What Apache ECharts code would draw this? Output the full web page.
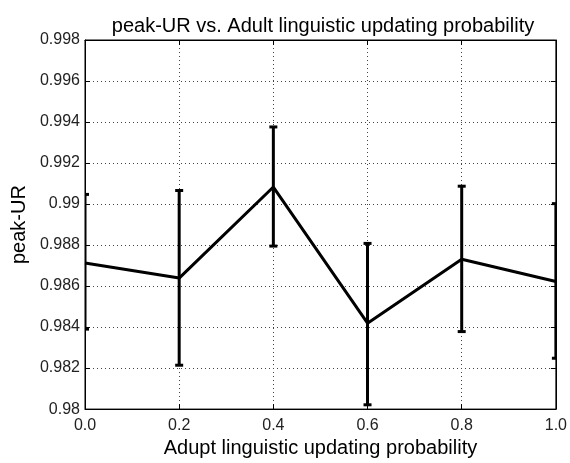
<!DOCTYPE html>
<html>
<head>
<meta charset="utf-8">
<script src="https://cdn.jsdelivr.net/npm/echarts@6/dist/echarts.min.js"></script>
<style>
html,body{margin:0;padding:0;background:#fff;}
#chart{width:570px;height:463px;}
</style>
</head>
<body>
<div id="chart"></div>
<script>
var xValues = [0.0, 0.2, 0.4, 0.6, 0.8, 1.0];
var meanValues = [0.98712, 0.98639, 0.99083, 0.98419, 0.98731, 0.98622];
var upperValues = [0.99047, 0.99066, 0.99376, 0.98808, 0.99087, 0.99002];
var lowerValues = [0.98390, 0.98214, 0.98795, 0.98021, 0.98378, 0.98248];

var titleText = 'peak-UR vs. Adult linguistic updating probability';
var xName = 'Adupt linguistic updating probability';
var yName = 'peak-UR';

var FONT = '"Liberation Sans", Arial, sans-serif';

var lineData = xValues.map(function (x, i) { return [x, meanValues[i]]; });
var errData = xValues.map(function (x, i) { return [x, lowerValues[i], upperValues[i]]; });

var chart = echarts.init(document.getElementById('chart'), null, {renderer: 'canvas'});

var gridLine = {show: true, lineStyle: {color: '#444', width: 1, type: [1, 3]}};

var option = {
  backgroundColor: '#fff',
  animation: false,
  title: {
    text: titleText,
    left: 318,
    textAlign: 'center',
    top: 11,
    textStyle: {fontFamily: FONT, fontSize: 20, fontWeight: 'normal', color: '#000'}
  },
  grid: {left: 85, right: 13, top: 40, bottom: 50, show: true, borderColor: '#000', borderWidth: 1, backgroundColor: '#fff'},
  xAxis: [{
    type: 'value', min: 0, max: 1, interval: 0.2,
    name: xName, nameLocation: 'middle', nameGap: 15,
    nameTextStyle: {fontFamily: FONT, fontSize: 20, color: '#000'},
    axisLine: {show: true, onZero: false, lineStyle: {color: '#000', width: 1}},
    axisTick: {show: true, inside: true, length: 5, lineStyle: {color: '#000'}},
    axisLabel: {fontFamily: FONT, fontSize: 16, color: '#222', margin: 8,
      formatter: function (v) { return v.toFixed(1); }},
    splitLine: gridLine
  }, {
    type: 'value', min: 0, max: 1, interval: 0.2, position: 'top',
    axisLine: {show: true, onZero: false, lineStyle: {color: '#000', width: 1}},
    axisTick: {show: true, inside: true, length: 5, lineStyle: {color: '#000'}},
    axisLabel: {show: false}, splitLine: {show: false}
  }],
  yAxis: [{
    type: 'value', min: 0.98, max: 0.998, interval: 0.002,
    name: yName, nameLocation: 'middle', nameGap: 52, nameRotate: 90,
    nameTextStyle: {fontFamily: FONT, fontSize: 20, color: '#000'},
    axisLine: {show: true, onZero: false, lineStyle: {color: '#000', width: 1}},
    axisTick: {show: true, inside: true, length: 5, lineStyle: {color: '#000'}},
    axisLabel: {fontFamily: FONT, fontSize: 16, color: '#222', margin: 5,
      formatter: function (v) { return String(parseFloat(v.toFixed(3))); }},
    splitLine: gridLine
  }, {
    type: 'value', min: 0.98, max: 0.998, interval: 0.002, position: 'right',
    axisLine: {show: true, onZero: false, lineStyle: {color: '#000', width: 1}},
    axisTick: {show: true, inside: true, length: 5, lineStyle: {color: '#000'}},
    axisLabel: {show: false}, splitLine: {show: false}
  }],
  series: [{
    type: 'line',
    data: lineData,
    showSymbol: false,
    symbol: 'none',
    clip: true,
    lineStyle: {color: '#000', width: 3},
    z: 3
  }, {
    type: 'custom',
    data: errData,
    clip: true,
    z: 4,
    renderItem: function (params, api) {
      var x = api.value(0);
      var lo = api.coord([x, api.value(1)]);
      var hi = api.coord([x, api.value(2)]);
      var hw = 4;
      var style = {stroke: '#000', lineWidth: 3, fill: null};
      return {
        type: 'group',
        children: [
          {type: 'line', shape: {x1: lo[0], y1: lo[1], x2: hi[0], y2: hi[1]}, style: style},
          {type: 'line', shape: {x1: hi[0] - hw, y1: hi[1], x2: hi[0] + hw, y2: hi[1]}, style: style},
          {type: 'line', shape: {x1: lo[0] - hw, y1: lo[1], x2: lo[0] + hw, y2: lo[1]}, style: style}
        ]
      };
    }
  }]
};
chart.setOption(option);
</script>
</body>
</html>
